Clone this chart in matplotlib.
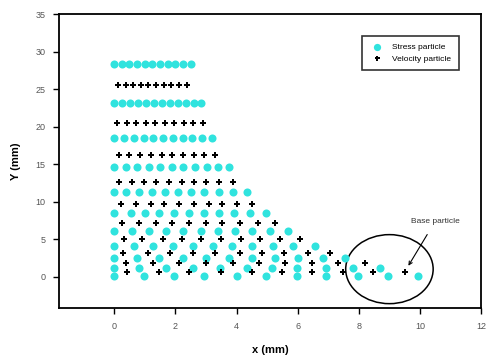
import matplotlib
matplotlib.use("Agg")
import matplotlib.pyplot as plt
from matplotlib.patches import Ellipse

# =========================
# Particle positions (mm)
# one entry per row: row height + x positions in that row
# =========================
stress_row_y = [0.1, 1.2, 2.5, 4.1, 6.1, 8.5, 11.3, 14.6, 18.5, 23.2, 28.4]
stress_row_x = [
    [0, 0.98, 1.97, 2.95, 4.0, 4.98, 5.97, 6.94, 7.97, 8.96, 9.94],
    [0, 0.8, 1.7, 2.57, 3.46, 4.34, 5.15, 5.97, 6.94, 7.81, 8.69],
    [0, 0.75, 1.48, 2.24, 3.0, 3.77, 4.52, 5.25, 6.0, 6.82, 7.54],
    [0, 0.66, 1.26, 1.91, 2.57, 3.22, 3.85, 4.52, 5.18, 5.86, 6.56],
    [0, 0.58, 1.13, 1.7, 2.24, 2.84, 3.39, 3.95, 4.52, 5.08, 5.67],
    [0, 0.55, 1.0, 1.48, 1.97, 2.46, 2.95, 3.44, 3.93, 4.43, 4.98],
    [0, 0.4, 0.8, 1.25, 1.67, 2.07, 2.5, 2.95, 3.44, 3.87, 4.33],
    [0, 0.38, 0.75, 1.13, 1.5, 1.88, 2.26, 2.64, 3.02, 3.4, 3.77],
    [0, 0.32, 0.64, 0.96, 1.28, 1.6, 1.92, 2.24, 2.56, 2.88, 3.2],
    [0, 0.26, 0.52, 0.78, 1.04, 1.3, 1.56, 1.82, 2.08, 2.34, 2.6, 2.85],
    [0, 0.25, 0.5, 0.75, 1.0, 1.25, 1.5, 1.75, 2.0, 2.25, 2.5],
]

velocity_row_y = [0.6, 1.8, 3.2, 5.0, 7.1, 9.7, 12.6, 16.2, 20.5, 25.6]
velocity_row_x = [
    [0.43, 1.48, 2.46, 3.5, 4.49, 5.48, 6.46, 7.49, 8.47, 9.51],
    [0.39, 1.26, 2.13, 3.0, 3.88, 4.75, 5.6, 6.46, 7.31, 8.2],
    [0.3, 1.1, 1.84, 2.57, 3.3, 4.1, 4.82, 5.54, 6.33, 7.05],
    [0.33, 0.92, 1.58, 2.22, 2.84, 3.5, 4.13, 4.77, 5.41, 6.07],
    [0.27, 0.82, 1.38, 1.9, 2.46, 3.0, 3.54, 4.1, 4.7, 5.25],
    [0.23, 0.72, 1.2, 1.64, 2.13, 2.62, 3.11, 3.54, 4.0, 4.49],
    [0.15, 0.58, 0.98, 1.38, 1.8, 2.22, 2.62, 3.0, 3.44, 3.87],
    [0.15, 0.5, 0.85, 1.2, 1.55, 1.9, 2.25, 2.6, 2.95, 3.3],
    [0.1, 0.41, 0.72, 1.03, 1.34, 1.65, 1.96, 2.27, 2.58, 2.89],
    [0.12, 0.37, 0.62, 0.87, 1.12, 1.37, 1.62, 1.87, 2.12, 2.37],
]

x_ticks = [0, 2, 4, 6, 8, 10, 12]
y_ticks = [0, 5, 10, 15, 20, 25, 30, 35]

# flatten rows into point lists
stress_x = [x for row in stress_row_x for x in row]
stress_y = [y for y, row in zip(stress_row_y, stress_row_x) for _ in row]
vel_x = [x for row in velocity_row_x for x in row]
vel_y = [y for y, row in zip(velocity_row_y, velocity_row_x) for _ in row]

# =========================
# Plot
# =========================
plt.rcParams["font.family"] = ["Liberation Sans", "DejaVu Sans"]

fig = plt.figure(figsize=(4.93, 3.6), dpi=100)
ax = fig.add_axes([0.12, 0.144, 0.856, 0.817])

ax.plot(stress_x, stress_y, linestyle="none", marker="o", markersize=5.8,
        color="#30e3de", markeredgewidth=0, label="Stress particle")
ax.plot(vel_x, vel_y, linestyle="none", marker="P", markersize=4.0,
        color="black", markeredgewidth=0, label="Velocity particle")

# circle around the base particles
ax.add_patch(Ellipse((9.0, 1.0), 2.86, 9.2, fill=False,
                     edgecolor="black", linewidth=1.1))

ax.annotate("Base particle", xy=(9.62, 1.45), xytext=(10.5, 7.4),
            ha="center", va="center", fontsize=6, color="#333333",
            arrowprops=dict(arrowstyle="->", color="black", lw=0.8,
                            shrinkA=6, shrinkB=0))

ax.set_xlim(-1.8, 12)
ax.set_ylim(-4.2, 35)
ax.set_xticks(x_ticks)
ax.set_yticks(y_ticks)

ax.set_xlabel("x (mm)", fontsize=8, fontweight="bold", labelpad=10)
ax.set_ylabel("Y (mm)", fontsize=8, fontweight="bold", labelpad=10)

for side in ["top", "right", "left", "bottom"]:
    ax.spines[side].set_linewidth(1.3)
ax.tick_params(direction="out", length=4, width=1, labelsize=6.5,
               labelcolor="#555555", pad=6)

ax.legend(loc="upper right", bbox_to_anchor=(0.957, 0.939), fontsize=6,
          frameon=True, fancybox=False, edgecolor="black",
          handletextpad=0.8, borderpad=0.9, labelspacing=0.4,
          markerscale=0.9).get_frame().set_linewidth(1.2)

fig.savefig("out.png", dpi=100)
